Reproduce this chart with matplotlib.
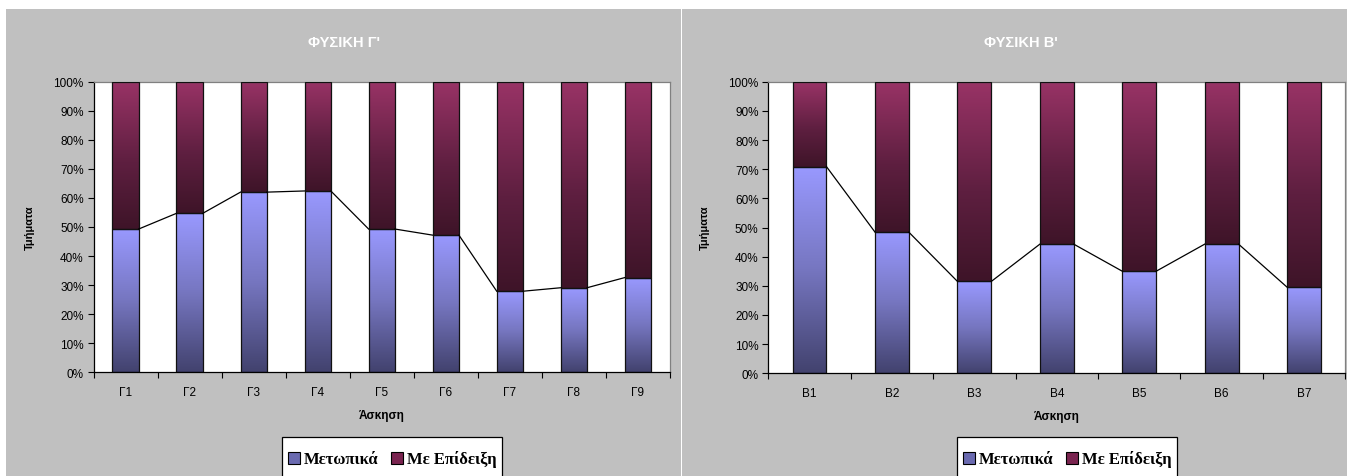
import matplotlib
matplotlib.use("Agg")
import matplotlib.pyplot as plt
import numpy as np
from matplotlib import font_manager as fm
from matplotlib.colors import LinearSegmentedColormap
from matplotlib.patches import Rectangle, Patch
from matplotlib.ticker import PercentFormatter, MultipleLocator, FixedLocator

# ---------------- data ----------------
cats_g = ["Γ1", "Γ2", "Γ3", "Γ4", "Γ5", "Γ6", "Γ7", "Γ8", "Γ9"]
metopika_g = [49.3, 54.7, 62.0, 62.4, 49.3, 47.2, 27.9, 29.1, 32.6]
epideixi_g = [100 - v for v in metopika_g]

cats_b = ["B1", "B2", "B3", "B4", "B5", "B6", "B7"]
metopika_b = [70.9, 48.4, 31.5, 44.3, 35.0, 44.3, 29.5]
epideixi_b = [100 - v for v in metopika_b]

title_g = "ΦΥΣΙΚΗ Γ'"
title_b = "ΦΥΣΙΚΗ B'"
xlabel = "Άσκηση"
ylabel = "Τμήματα"
series_names = ["Μετωπικά", "Με Επίδειξη"]


# ---------------- fonts ----------------
def find_font(name, bold):
    for f in fm.fontManager.ttflist:
        if f.name == name and "Narrow" not in f.fname:
            isbold = f.weight in ("bold", 700) or (isinstance(f.weight, int) and f.weight >= 600)
            if isbold == bold and f.style == "normal":
                return f.fname
    return None


def fp(name, bold, size, fallback):
    path = find_font(name, bold)
    if path:
        return fm.FontProperties(fname=path, size=size)
    return fm.FontProperties(family=fallback, weight="bold" if bold else "normal", size=size)


sans_reg = lambda s: fp("Liberation Sans", False, s, "DejaVu Sans")
sans_bold = lambda s: fp("Liberation Sans", True, s, "DejaVu Sans")
serif_bold = lambda s: fp("Liberation Serif", True, s, "DejaVu Serif")

# ---------------- style ----------------
W, H = 1347, 477
fig = plt.figure(figsize=(W / 100, H / 100), dpi=100)
fig.patch.set_facecolor("white")

GRAY = "#C0C0C0"
blue_cmap = LinearSegmentedColormap.from_list(
    "b", [(0, "#42426E"), (0.5, "#7676C0"), (1.0, "#9999FF")])
purp_cmap = LinearSegmentedColormap.from_list(
    "p", [(0, "#3E1428"), (0.45, "#5E1F40"), (1.0, "#993366")])


def px(x, y):
    return x / W, 1 - y / H


# background panels
fig.add_artist(Rectangle(px(6, 477), 675 / W, 467 / H, transform=fig.transFigure,
                         facecolor=GRAY, edgecolor="none", zorder=0))
fig.add_artist(Rectangle(px(682, 477), 665 / W, 467 / H, transform=fig.transFigure,
                         facecolor=GRAY, edgecolor="none", zorder=0))


def grad_bars(ax, xs, bottoms, heights, width, cmap):
    grad = np.linspace(0, 1, 256).reshape(-1, 1)
    bars = ax.bar(xs, heights, width, bottom=bottoms, color=cmap(0.6),
                  edgecolor="none", zorder=2)
    for b in bars:
        x0, y0 = b.get_x(), b.get_y()
        w, h = b.get_width(), b.get_height()
        ax.imshow(grad, cmap=cmap, origin="lower", aspect="auto",
                  extent=(x0, x0 + w, y0, y0 + h), zorder=2.5,
                  interpolation="bilinear")
    ax.bar(xs, heights, width, bottom=bottoms, facecolor="none",
           edgecolor="#111111", linewidth=0.9, zorder=3)
    return bars


def panel(rect, cats, met, epi, title, title_xy, ylab_x, legend_x):
    ax = fig.add_axes(rect)
    ax.set_facecolor("white")
    n = len(cats)
    xs = np.arange(n)
    width = 0.41
    grad_bars(ax, xs, [0] * n, met, width, blue_cmap)
    grad_bars(ax, xs, met, epi, width, purp_cmap)
    # series lines
    for i in range(n - 1):
        ax.plot([xs[i] + width / 2, xs[i + 1] - width / 2], [met[i], met[i + 1]],
                color="black", linewidth=0.9, zorder=4)
    ax.set_xlim(-0.5, n - 0.5)
    ax.set_ylim(0, 100)
    ax.yaxis.set_major_locator(MultipleLocator(10))
    ax.yaxis.set_major_formatter(PercentFormatter(decimals=0))
    ax.set_xticks(xs)
    ax.set_xticklabels(cats)
    ax.xaxis.set_minor_locator(FixedLocator(np.arange(-0.5, n, 1.0)))
    ax.tick_params(axis="x", which="major", length=0, pad=10)
    ax.tick_params(axis="x", which="minor", length=4, width=0.8, color="black")
    ax.tick_params(axis="y", length=4, width=0.8, pad=3)
    for lab in ax.get_xticklabels() + ax.get_yticklabels():
        lab.set_fontproperties(sans_reg(8.5))
    for s in ["left", "bottom"]:
        ax.spines[s].set_color("black")
        ax.spines[s].set_linewidth(0.9)
    for s in ["top", "right"]:
        ax.spines[s].set_color("#808080")
        ax.spines[s].set_linewidth(0.9)
    ax.set_xlabel(xlabel, fontproperties=sans_bold(8.5), labelpad=8)
    fig.text(*px(*title_xy), title, color="white", fontproperties=sans_bold(10.5),
             ha="center", va="center")
    fig.text(*px(ylab_x, 228), ylabel, rotation=90, fontproperties=sans_bold(8),
             ha="center", va="center")
    # legend box (runs off the bottom edge, as in the original)
    fig.add_artist(Rectangle(px(legend_x, 490), 220 / W, 52.3 / H,
                             transform=fig.transFigure, facecolor="white",
                             edgecolor="black", linewidth=0.9, zorder=5))
    handles = [Patch(facecolor="#6A6AB0", edgecolor="black", linewidth=0.8),
               Patch(facecolor="#7A2450", edgecolor="black", linewidth=0.8)]
    leg = fig.legend(handles, series_names, loc="center left",
                     bbox_to_anchor=px(legend_x + 5, 460), borderaxespad=0,
                     ncol=2, frameon=False, borderpad=0.1,
                     handlelength=0.7, handleheight=0.7, handletextpad=0.25,
                     columnspacing=0.75, prop=serif_bold(12))
    leg.set_zorder(6)
    return ax


def frac_rect(l, t, r, b):
    return [l / W, 1 - b / H, (r - l) / W, (b - t) / H]


panel(frac_rect(93.5, 82.7, 670, 373.3), cats_g, metopika_g, epideixi_g,
      title_g, (344, 43), 30, 281.7)
panel(frac_rect(768.3, 82.7, 1345.3, 374.3), cats_b, metopika_b, epideixi_b,
      title_b, (1021, 43), 705, 956.7)

fig.savefig("out.png", dpi=100, facecolor="white")
